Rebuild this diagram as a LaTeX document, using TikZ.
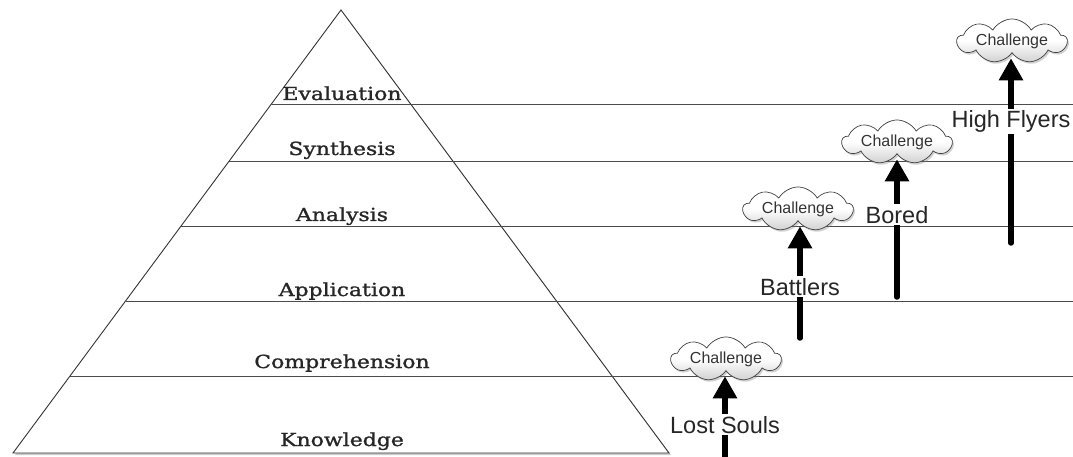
\documentclass[tikz,border=0pt]{standalone}
\usepackage{fontspec}
\setmainfont{Liberation Sans}
\newfontfamily\pyrfont[FakeStretch=1.22,FakeBold=1.2]{DejaVu Serif}
\usetikzlibrary{arrows.meta,shapes.symbols,shadows,calc}
\begin{document}
\begin{tikzpicture}[x=1pt,y=-1pt,
  level/.style={font=\pyrfont\fontsize{18}{20}\selectfont, text=black!85, anchor=base, inner sep=0pt},
  band/.style={draw=black!70, line width=0.9pt},
  cloudbox/.style={cloud, cloud puffs=9, cloud puff arc=120, aspect=4, draw=black!75, line width=0.7pt,
    top color=white, bottom color=black!18, middle color=white,
    drop shadow={opacity=0.35,shadow xshift=1.5pt,shadow yshift=-2pt},
    font=\fontsize{16}{18}\selectfont, text=black!80, inner sep=0pt, minimum width=110pt, minimum height=30pt},
  climb/.style={line width=5.5pt, line cap=round, -{Triangle[width=23pt,length=22pt]}, shorten >=5pt},
  tag/.style={font=\fontsize{23.5}{26}\selectfont, text=black!85, fill=white, anchor=base, inner xsep=1pt, inner ysep=1.5pt}
]
\clip (0,0) rectangle (1073,457);
\fill[white] (0,0) rectangle (1073,457);

% pyramid
\coordinate (A) at (341,10);
\coordinate (BL) at (13,453);
\coordinate (BR) at (669,453);
\coordinate (R) at (1073,0);
\filldraw[fill=white, draw=black!80, line width=0.9pt,
  drop shadow={opacity=0.4, shadow xshift=2pt, shadow yshift=-2pt}] (A) -- (BL) -- (BR) -- cycle;

% bands
\foreach \t/\n in {0.2122/e,0.3409/s,0.4876/a,0.6569/p,0.8262/c}{
  \coordinate (p\n) at ($(A)!\t!(BL)$);
  \draw[band] (p\n) -- (p\n -| R);
}

% clouds
\node[cloudbox] (c1) at (726,359) {Challenge};
\node[cloudbox] (c2) at (798,209) {Challenge};
\node[cloudbox] (c3) at (897,142) {Challenge};
\node[cloudbox] (c4) at (1012,41) {Challenge};

% arrows
\coordinate (s1) at (725,470);
\coordinate (s2) at (800,338);
\coordinate (s3) at (897,297);
\coordinate (s4) at (1011,243);
\draw[climb] (s1) -- (s1 |- c1.south);
\draw[climb] (s2) -- (s2 |- c2.south);
\draw[climb] (s3) -- (s3 |- c3.south);
\draw[climb] (s4) -- (s4 |- c4.south);

% level labels
\node[level] (ev) at (342,100) {Evaluation};
\node[level] (sy) at (342,155) {Synthesis};
\node[level] (an) at (342,221) {Analysis};
\node[level] (ap) at (342,296) {Application};
\node[level] (co) at (342,368) {Comprehension};
\node[level] (kn) at (342,446) {Knowledge};

% group labels
\node[tag] (t1) at (725,433) {Lost Souls};
\node[tag] (t2) at (800,295) {Battlers};
\node[tag] (t3) at (897,223) {Bored};
\node[tag] (t4) at (1011,128) {High Flyers};
\end{tikzpicture}
\end{document}
